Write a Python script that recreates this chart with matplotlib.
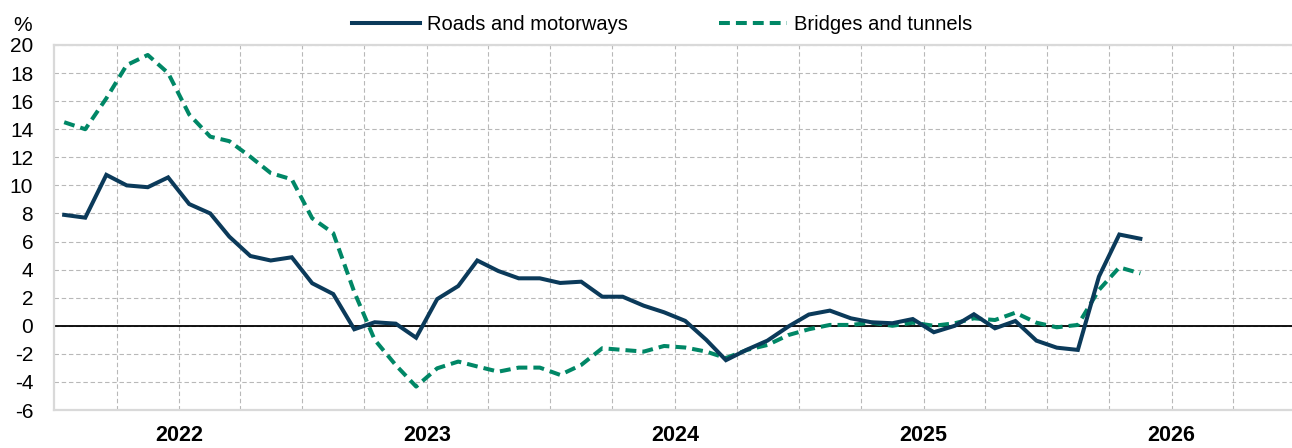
import matplotlib
matplotlib.use("Agg")
import matplotlib.pyplot as plt
from matplotlib.lines import Line2D
import pandas as pd
import datetime as dt

# ---- data ----
start_month = "2021-07"
roads = [7.9, 7.7, 10.75, 10.0, 9.87, 10.57, 8.67, 8.0, 6.35, 4.97,
         4.65, 4.88, 3.03, 2.26, -0.25, 0.25, 0.15, -0.85, 1.9, 2.83,
         4.65, 3.9, 3.38, 3.38, 3.05, 3.14, 2.07, 2.07, 1.43, 0.96,
         0.35, -1.0, -2.45, -1.7, -1.06, -0.05, 0.8, 1.08, 0.53, 0.25,
         0.18, 0.48, -0.46, 0.0, 0.82, -0.18, 0.34, -1.06, -1.56, -1.72,
         3.5, 6.5, 6.2]
bridges = [14.5, 14.0, 16.2, 18.57, 19.29, 18.0, 15.05, 13.47, 13.15, 12.04,
           10.88, 10.43, 7.66, 6.6, 2.4, -1.0, -2.8, -4.33, -3.03, -2.55,
           -2.9, -3.27, -2.98, -2.98, -3.5, -2.79, -1.6, -1.72, -1.84, -1.44,
           -1.55, -1.84, -2.3, -1.72, -1.37, -0.66, -0.25, 0.06, 0.06, 0.22,
           0.0, 0.22, 0.0, 0.18, 0.53, 0.41, 0.93, 0.22, -0.11, 0.06,
           2.55, 4.16, 3.73]
series_names = ["Roads and motorways", "Bridges and tunnels"]
year_labels = ["2022", "2023", "2024", "2025", "2026"]
y_ticks = [-6, -4, -2, 0, 2, 4, 6, 8, 10, 12, 14, 16, 18, 20]

# month mid-points
months = pd.date_range(start_month, periods=len(roads), freq="MS") + pd.Timedelta(days=15)

navy = "#0b3a5a"
green = "#008766"
grid_c = "#b8b8b8"

plt.rcParams["font.family"] = ["Liberation Sans", "DejaVu Sans"]

W, H = 1292, 448
fig = plt.figure(figsize=(W / 100, H / 100), dpi=100)
ax = fig.add_axes([54 / W, 1 - 410 / H, (W - 54) / W + 0.002, (410 - 45) / H])

ax.plot(months, roads, color=navy, lw=2.9, solid_joinstyle="miter", zorder=4)
ax.plot(months, bridges, color=green, lw=2.9, dashes=(2.7, 1.5), zorder=3)

ax.axhline(0, color="black", lw=1.3, zorder=2)

ax.set_xlim(dt.datetime(2021, 7, 1), dt.datetime(2026, 7, 1))
ax.set_ylim(-6, 20)
ax.set_yticks(y_ticks)
ax.set_yticklabels([str(v) for v in y_ticks], fontsize=15)

quarters = pd.date_range("2021-10-01", "2026-04-01", freq="3MS")
ax.xaxis.remove_overlapping_locs = False
ax.set_xticks(quarters)
ax.set_xticklabels([""] * len(quarters))
years = [dt.datetime(int(y), 1, 1) for y in year_labels]
ax.set_xticks(years, minor=True)
ax.set_xticklabels(year_labels, minor=True, fontsize=15.5, fontweight="bold")

ax.tick_params(axis="both", which="both", length=0)
ax.tick_params(axis="y", pad=15)
ax.tick_params(axis="x", which="minor", pad=11)

ax.grid(True, which="major", color=grid_c, lw=0.8, linestyle=(0, (4, 2.5)))
ax.set_axisbelow(True)

for s in ax.spines.values():
    s.set_color("#d9d9d9")
    s.set_linewidth(1.6)

fig.text(13 / W, 1 - 31 / H, "%", fontsize=15, ha="left", va="baseline")

handles = [Line2D([0], [0], color=navy, lw=2.9),
           Line2D([0], [0], color=green, lw=2.9, dashes=(2.7, 1.5))]
fig.legend(handles, series_names, loc="center", bbox_to_anchor=(662 / W, 1 - 25 / H),
           ncol=2, frameon=False, fontsize=14.5, handlelength=3.4,
           handletextpad=0.35, columnspacing=4.5, borderpad=0, borderaxespad=0)

fig.savefig("out.png", dpi=100)
